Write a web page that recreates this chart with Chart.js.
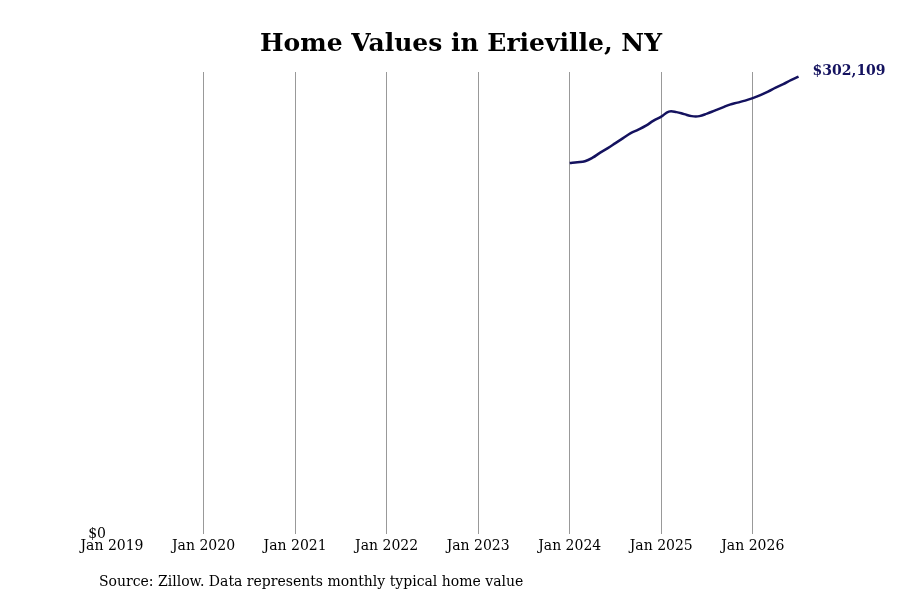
<!DOCTYPE html>
<html>
<head>
<meta charset="utf-8">
<script src="https://cdn.jsdelivr.net/npm/chart.js@4"></script>
<style>
  html, body { margin: 0; padding: 0; background: #fff; }
  #wrap { width: 900px; height: 600px; }
</style>
</head>
<body>
<div id="wrap"><canvas id="chart-home-values"></canvas></div>
<script>
// months counted from Jan 2019
const startMonth = 60; // Jan 2024
const homeValues = [
  245060, 245590, 246250, 248560, 251870, 254840, 258150, 261450, 264760, 267070,
  269710, 273020, 275670, 278970, 278640, 277320, 276000, 276000, 277650, 279630,
  281610, 283600, 284920, 286240, 287900, 289880, 292190, 294840, 297150, 299800,
  302109,
];
const tickMonths = [0, 12, 24, 36, 48, 60, 72, 84];
const tickLabels = ['Jan 2019', 'Jan 2020', 'Jan 2021', 'Jan 2022', 'Jan 2023', 'Jan 2024', 'Jan 2025', 'Jan 2026'];

const navy = '#14125f';
Chart.defaults.font.family = "'DejaVu Serif', serif";
Chart.defaults.color = '#000';

const points = homeValues.map((v, i) => ({ x: startMonth + i, y: v }));
const fmt = v => '$' + v.toLocaleString('en-US');

// value tag at the end of the line + source note
const endLabel = {
  id: 'endLabel',
  afterDatasetsDraw(chart) {
    const meta = chart.getDatasetMeta(0);
    const last = meta.data[meta.data.length - 1];
    const ctx = chart.ctx;
    ctx.save();
    ctx.font = "bold 14px 'DejaVu Serif', serif";
    ctx.fillStyle = navy;
    ctx.textBaseline = 'middle';
    ctx.fillText(fmt(homeValues[homeValues.length - 1]), last.x + 14, last.y - 5);
    ctx.font = "14px 'DejaVu Serif', serif";
    ctx.fillStyle = '#000';
    ctx.fillText('Source: Zillow. Data represents monthly typical home value', 99, 582);
    ctx.restore();
  }
};

new Chart(document.getElementById('chart-home-values'), {
  type: 'line',
  data: {
    datasets: [{
      label: 'Home value',
      data: points,
      borderColor: navy,
      borderWidth: 2.5,
      pointRadius: 0,
      tension: 0.4,
      fill: false,
    }],
  },
  options: {
    responsive: true,
    maintainAspectRatio: false,
    animation: false,
    layout: { padding: { left: 22, right: 0, top: 0, bottom: 41 } },
    plugins: {
      legend: { display: false },
      tooltip: { enabled: false },
      title: {
        display: true,
        text: 'Home Values in Erieville, NY',
        font: { size: 25, weight: 'bold' },
        color: '#000',
        padding: { top: 29, bottom: 13 },
      },
    },
    scales: {
      x: {
        type: 'linear',
        min: 0,
        max: 103.3,
        afterBuildTicks: s => { s.ticks = tickMonths.map(v => ({ value: v })); },
        ticks: {
          font: { size: 14 },
          padding: 4,
          maxRotation: 0,
          callback: v => tickLabels[tickMonths.indexOf(v)],
        },
        grid: {
          drawTicks: false,
          color: ctx => (ctx.index === 0 ? 'rgba(0,0,0,0)' : '#999'),
        },
        border: { display: false },
      },
      y: {
        min: 0,
        max: Math.max(...homeValues) * 1.01,
        afterBuildTicks: s => { s.ticks = [{ value: 0 }]; },
        afterFit: s => { s.width = 90; },
        ticks: { font: { size: 14 }, padding: 6, callback: v => fmt(v) },
        grid: { display: false, drawTicks: false },
        border: { display: false },
      },
    },
  },
  plugins: [endLabel],
});
</script>
</body>
</html>
